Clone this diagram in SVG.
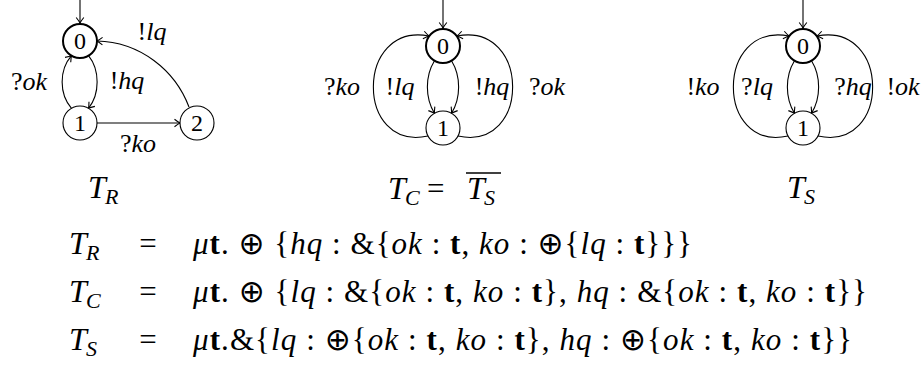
<svg xmlns="http://www.w3.org/2000/svg" width="924" height="368" viewBox="0 0 924 368">
<style>
text{font-family:"Liberation Serif","DejaVu Serif",serif;fill:#000}
.n{font-size:24px;text-anchor:middle}
.lb{font-size:26px;font-style:italic;text-anchor:middle}
.up{font-style:normal}
.tt{font-size:32px;font-style:italic}
.sb{font-size:22px;font-style:italic}
.eq{font-size:31px}
.i{font-style:italic}
.b{font-weight:bold}
.o{font-family:"DejaVu Sans",sans-serif;font-weight:normal}
.e{fill:none;stroke:#000;stroke-width:1.1;marker-end:url(#arr)}
.c{fill:#fff;stroke:#000;stroke-width:1.1}
.c0{fill:#fff;stroke:#000;stroke-width:2}
</style>
<defs>
<marker id="arr" viewBox="-7 -5 8 10" refX="0" refY="0" markerWidth="8" markerHeight="10" orient="auto" markerUnits="userSpaceOnUse">
<path d="M-5.5,-3.8 Q-1.8,-0.9 0,0 Q-1.8,0.9 -5.5,3.8" fill="none" stroke="#000" stroke-width="1.1"/>
</marker>
</defs>
<g id="connectors">
<path class="e" d="M80,0 L80,23"/>
<path class="e" d="M88.5,55.7 C100,70 100,94 88.5,108.3"/>
<path class="e" d="M71.5,108.3 C59,94 59,70 71.5,55.7"/>
<path class="e" d="M97,123 L180,123"/>
<path class="e" d="M189,107 C175,70 140,42 97,41"/>
<path class="e" d="M443,0 L443,28"/>
<path class="e" d="M434.5,60.7 C425,76 425,98 434.5,113.3"/>
<path class="e" d="M451.5,60.7 C461,76 461,98 451.5,113.3"/>
<path class="e" d="M428,136 C355,152 355,22 429,36"/>
<path class="e" d="M458,136 C531,152 531,22 457,36"/>
<path class="e" d="M803,0 L803,28"/>
<path class="e" d="M794.5,60.7 C785,76 785,98 794.5,113.3"/>
<path class="e" d="M811.5,60.7 C821,76 821,98 811.5,113.3"/>
<path class="e" d="M788,136 C715,152 715,22 789,36"/>
<path class="e" d="M818,136 C891,152 891,22 817,36"/>
</g>
<g id="TR-0"><circle class="c0" cx="80" cy="41" r="17"/><text class="n" x="80" y="49">0</text></g>
<g id="TR-1"><circle class="c" cx="80" cy="123" r="17"/><text class="n" x="80" y="131">1</text></g>
<g id="TR-2"><circle class="c" cx="197" cy="123" r="17"/><text class="n" x="197" y="131">2</text></g>
<g id="TC-0"><circle class="c0" cx="443" cy="46" r="17"/><text class="n" x="443" y="54">0</text></g>
<g id="TC-1"><circle class="c" cx="443" cy="128" r="17"/><text class="n" x="443" y="136">1</text></g>
<g id="TS-0"><circle class="c0" cx="803" cy="46" r="17"/><text class="n" x="803" y="54">0</text></g>
<g id="TS-1"><circle class="c" cx="803" cy="128" r="17"/><text class="n" x="803" y="136">1</text></g>
<g id="labels">
<text class="lb" x="152" y="40"><tspan class="up">!</tspan>lq</text>
<text class="lb" x="127" y="89"><tspan class="up">!</tspan>hq</text>
<text class="lb" x="29" y="90"><tspan class="up">?</tspan>ok</text>
<text class="lb" x="138" y="152"><tspan class="up">?</tspan>ko</text>
<text class="lb" x="342" y="95"><tspan class="up">?</tspan>ko</text>
<text class="lb" x="400" y="95"><tspan class="up">!</tspan>lq</text>
<text class="lb" x="492" y="95"><tspan class="up">!</tspan>hq</text>
<text class="lb" x="547" y="95"><tspan class="up">?</tspan>ok</text>
<text class="lb" x="703" y="95"><tspan class="up">!</tspan>ko</text>
<text class="lb" x="757" y="95"><tspan class="up">?</tspan>lq</text>
<text class="lb" x="853" y="95"><tspan class="up">?</tspan>hq</text>
<text class="lb" x="903" y="95"><tspan class="up">!</tspan>ok</text>
</g>
<g id="titles">
<text class="tt" x="88" y="198">T</text><text class="sb" x="105" y="204">R</text>
<text class="tt" x="388" y="199">T</text><text class="sb" x="405" y="205">C</text>
<text class="eq" x="427" y="199">=</text>
<text class="tt" x="467" y="199">T</text><text class="sb" x="484" y="205">S</text>
<line x1="466" y1="173" x2="501" y2="173" stroke="#000" stroke-width="1.3"/>
<text class="tt" x="787" y="198">T</text><text class="sb" x="804" y="204">S</text>
</g>
<g id="equations">
<text class="tt" x="69" y="254">T</text><text class="sb" x="86" y="260">R</text>
<text class="eq" x="148" y="254" text-anchor="middle">=</text>
<text class="eq" x="193" y="254" textLength="499" lengthAdjust="spacing"><tspan class="i">μ</tspan><tspan class="b">t</tspan>. <tspan class="o">⊕</tspan> {<tspan class="i">hq</tspan> : &amp;{<tspan class="i">ok</tspan> : <tspan class="b">t</tspan>, <tspan class="i">ko</tspan> : <tspan class="o">⊕</tspan>{<tspan class="i">lq</tspan> : <tspan class="b">t</tspan>}}}</text>
<text class="tt" x="69" y="302">T</text><text class="sb" x="86" y="308">C</text>
<text class="eq" x="148" y="302" text-anchor="middle">=</text>
<text class="eq" x="193" y="302" textLength="674" lengthAdjust="spacing"><tspan class="i">μ</tspan><tspan class="b">t</tspan>. <tspan class="o">⊕</tspan> {<tspan class="i">lq</tspan> : &amp;{<tspan class="i">ok</tspan> : <tspan class="b">t</tspan>, <tspan class="i">ko</tspan> : <tspan class="b">t</tspan>}, <tspan class="i">hq</tspan> : &amp;{<tspan class="i">ok</tspan> : <tspan class="b">t</tspan>, <tspan class="i">ko</tspan> : <tspan class="b">t</tspan>}}</text>
<text class="tt" x="69" y="350">T</text><text class="sb" x="86" y="356">S</text>
<text class="eq" x="148" y="350" text-anchor="middle">=</text>
<text class="eq" x="193" y="350" textLength="659" lengthAdjust="spacing"><tspan class="i">μ</tspan><tspan class="b">t</tspan>.&amp;{<tspan class="i">lq</tspan> : <tspan class="o">⊕</tspan>{<tspan class="i">ok</tspan> : <tspan class="b">t</tspan>, <tspan class="i">ko</tspan> : <tspan class="b">t</tspan>}, <tspan class="i">hq</tspan> : <tspan class="o">⊕</tspan>{<tspan class="i">ok</tspan> : <tspan class="b">t</tspan>, <tspan class="i">ko</tspan> : <tspan class="b">t</tspan>}}</text>
</g>
</svg>
